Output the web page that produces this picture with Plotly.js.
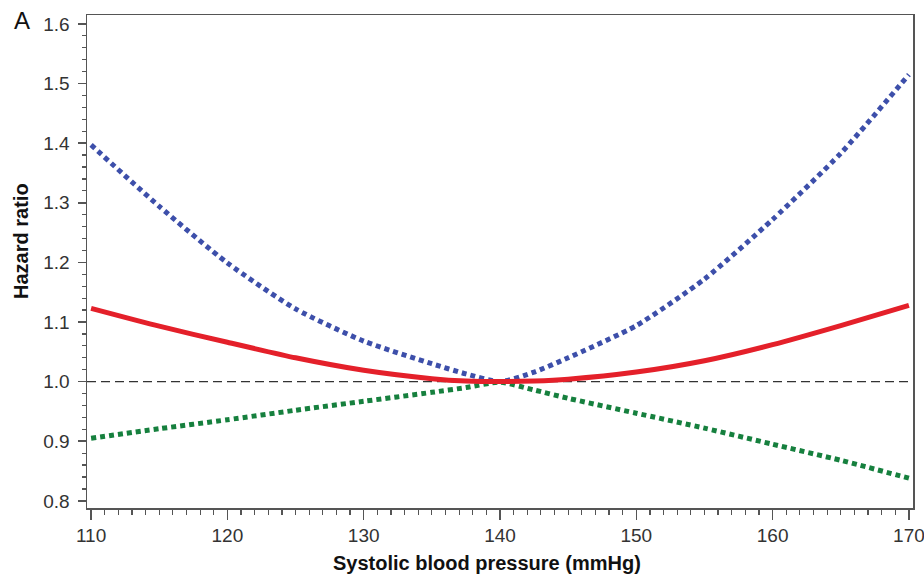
<!DOCTYPE html>
<html>
<head>
<meta charset="utf-8">
<script src="https://cdn.plot.ly/plotly-3.0.1.min.js"></script>
<style>
  html, body { margin: 0; padding: 0; background: #fff; }
  #chart { width: 924px; height: 579px; }
</style>
</head>
<body>
<div id="chart"></div>
<script>
// Systolic blood pressure (mmHg)
const sbp = [110, 115, 120, 125, 130, 135, 137.5, 140, 142.5, 145, 150, 155, 160, 165, 170];

// Hazard ratio curves
const hrMain  = [1.123, 1.093, 1.066, 1.040, 1.019, 1.005, 1.001, 1.000, 1.001, 1.004, 1.016, 1.035, 1.062, 1.094, 1.128];
const hrUpper = [1.397, 1.294, 1.199, 1.122, 1.068, 1.030, 1.013, 1.000, 1.016, 1.040, 1.094, 1.172, 1.272, 1.383, 1.515];
const hrLower = [0.905, 0.921, 0.936, 0.952, 0.967, 0.982, 0.990, 0.999, 0.986, 0.972, 0.947, 0.922, 0.895, 0.868, 0.838];

// Reference level (no effect)
const refLevel = 1.0;

// Axis ticks
const xTicks = [110, 120, 130, 140, 150, 160, 170];
const yTicks = [0.8, 0.9, 1.0, 1.1, 1.2, 1.3, 1.4, 1.5, 1.6];

const FONT = 'Liberation Sans, Arial, Helvetica, sans-serif';
const AXIS_COLOR = '#555';

const traces = [
  {
    x: sbp, y: hrUpper, type: 'scatter', mode: 'lines',
    line: { color: '#3d4faa', width: 5, dash: '5px,4px', shape: 'spline', smoothing: 0.6 },
    hoverinfo: 'skip'
  },
  {
    x: sbp, y: hrLower, type: 'scatter', mode: 'lines',
    line: { color: '#16803e', width: 5, dash: '5px,4px', shape: 'spline', smoothing: 0.6 },
    hoverinfo: 'skip'
  },
  {
    x: sbp, y: hrMain, type: 'scatter', mode: 'lines',
    line: { color: '#e4202a', width: 5, shape: 'spline', smoothing: 0.6 },
    hoverinfo: 'skip'
  }
];

const layout = {
  width: 924, height: 579,
  margin: { l: 87, r: 11, t: 15, b: 71 },
  paper_bgcolor: '#fff', plot_bgcolor: '#fff',
  showlegend: false,
  font: { family: FONT, color: '#222' },
  xaxis: {
    range: [109.7, 170.3],
    tickvals: xTicks,
    ticks: 'outside', ticklen: 10, tickwidth: 1.5, tickcolor: AXIS_COLOR,
    minor: { dtick: 1, ticks: 'outside', ticklen: 5, tickwidth: 1.2, tickcolor: AXIS_COLOR, showgrid: false },
    showline: true, linecolor: AXIS_COLOR, linewidth: 1.5, mirror: true,
    showgrid: false, zeroline: false,
    ticklabelstandoff: 0,
    ticklabeloverflow: 'allow',
    tickfont: { family: FONT, size: 19, color: '#333' }
  },
  yaxis: {
    range: [0.788, 1.615],
    tickvals: yTicks,
    tickformat: '.1f',
    ticks: 'outside', ticklen: 8, tickwidth: 1.5, tickcolor: AXIS_COLOR,
    minor: { dtick: 0.02, tick0: 0.8, ticks: 'outside', ticklen: 4, tickwidth: 1.2, tickcolor: AXIS_COLOR, showgrid: false },
    showline: true, linecolor: AXIS_COLOR, linewidth: 1.5, mirror: true,
    showgrid: false, zeroline: false,
    ticklabelstandoff: 4,
    ticklabeloverflow: 'allow',
    tickfont: { family: FONT, size: 19, color: '#333' }
  },
  shapes: [
    {
      type: 'line', layer: 'below',
      xref: 'paper', x0: 0, x1: 1,
      yref: 'y', y0: refLevel, y1: refLevel,
      line: { color: '#333', width: 1.2, dash: '9px,5px' }
    }
  ],
  annotations: [
    {
      text: 'A', xref: 'paper', yref: 'paper',
      x: -0.091, y: 1.02, xanchor: 'left', yanchor: 'top',
      showarrow: false,
      font: { family: FONT, size: 24, color: '#111' }
    },
    {
      text: '<b>Systolic blood pressure (mmHg)</b>', xref: 'paper', yref: 'paper',
      x: 0.4843, y: -0.1116, xanchor: 'center', yanchor: 'middle',
      showarrow: false,
      font: { family: FONT, size: 20, color: '#111' }
    },
    {
      text: '<b>Hazard ratio</b>', xref: 'paper', yref: 'paper',
      x: -0.0799, y: 0.5416, xanchor: 'center', yanchor: 'middle',
      textangle: -90, showarrow: false,
      font: { family: FONT, size: 20, color: '#111' }
    }
  ]
};

Plotly.newPlot('chart', traces, layout, { displayModeBar: false, staticPlot: true });
</script>
</body>
</html>
